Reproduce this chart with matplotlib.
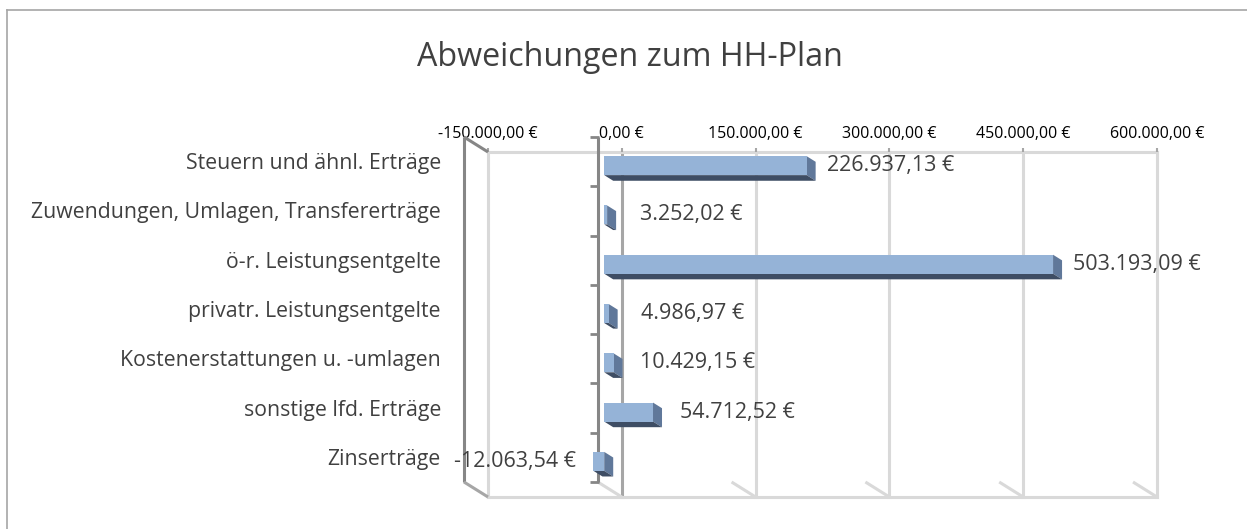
import matplotlib
matplotlib.use("Agg")
import matplotlib.pyplot as plt
from matplotlib.patches import Polygon
from matplotlib.transforms import Affine2D, IdentityTransform
from matplotlib.lines import Line2D

# data
categories = [
    "Steuern und ähnl. Erträge",
    "Zuwendungen, Umlagen, Transfererträge",
    "ö-r. Leistungsentgelte",
    "privatr. Leistungsentgelte",
    "Kostenerstattungen u. -umlagen",
    "sonstige lfd. Erträge",
    "Zinserträge",
]
values = [226937.13, 3252.02, 503193.09, 4986.97, 10429.15, 54712.52, -12063.54]
value_labels = ["226.937,13 €", "3.252,02 €", "503.193,09 €", "4.986,97 €",
                "10.429,15 €", "54.712,52 €", "-12.063,54 €"]
ticks = [-150000, 0, 150000, 300000, 450000, 600000]
tick_labels = ["-150.000,00 €", "0,00 €", "150.000,00 €", "300.000,00 €",
               "450.000,00 €", "600.000,00 €"]
title = "Abweichungen zum HH-Plan"

plt.rcParams["font.family"] = ["Open Sans", "DejaVu Sans"]

W, H = 1247, 529
fig = plt.figure(figsize=(W / 100, H / 100), dpi=100)

# the axes is the back wall of the excel 3d chart, everything in front is shifted by pixels
ax = fig.add_axes([488 / W, 1 - 497 / H, (1157 - 488) / W, (497 - 152) / H])
n = len(categories)
ax.set_xlim(ticks[0], ticks[-1])
ax.set_ylim(n - 0.5, -0.5)
ax.set_autoscale_on(False)
for s in ax.spines.values():
    s.set_visible(False)
ax.set_yticks([])
ax.patch.set_alpha(0)

DX, DY = 24, 15  # depth vector in pixels (front -> back)
f0, f1 = 0.267, 0.642  # depth of bar front / back face

def shifted(depth):
    return ax.transData + Affine2D().translate(-DX * (1 - depth), DY * (1 - depth))

def px(x, y, depth):
    X, Y = ax.transData.transform((x, y))
    return X - DX * (1 - depth), Y + DY * (1 - depth)

def seg(p, q, color, lw, z=1):
    ax.add_line(Line2D([p[0], q[0]], [p[1], q[1]], color=color, lw=lw,
                       transform=IdentityTransform(), clip_on=False, zorder=z,
                       solid_capstyle="butt"))

light = "#d9d9d9"
mid = "#a6a6a6"
dark = "#868686"
y_top, y_bot = -0.5, n - 0.5

# back wall gridlines + floor diagonals
for t in ticks:
    col = mid if t == 0 else light
    ax.plot([t, t], [y_top, y_bot], color=col, lw=2.2, clip_on=False, zorder=1)
    if t != ticks[0]:
        seg(px(t, y_bot, 0), px(t, y_bot, 1), light, 2.2)
ax.plot([ticks[0], ticks[-1]], [y_top, y_top], color=light, lw=2.2, clip_on=False, zorder=1)
ax.plot([ticks[0], ticks[-1]], [y_bot, y_bot], color=light, lw=2.2, clip_on=False, zorder=1)

# top tick labels over the back wall
ax.xaxis.tick_top()
ax.set_xticks(ticks)
ax.set_xticklabels(tick_labels)
ax.tick_params(axis="x", length=3, width=1.5, color=mid, pad=4.5, labelsize=11.5,
               labelcolor="#000000")

# left side wall edges
seg(px(ticks[0], y_top, 0), px(ticks[0], y_bot, 0), dark, 2.2, 2)
seg(px(ticks[0], y_top, 0), px(ticks[0], y_top, 1), dark, 2.2, 2)
seg(px(ticks[0], y_bot, 0), px(ticks[0], y_bot, 1), mid, 2.2, 2)

# front value axis at zero with category ticks
seg(px(0, y_top, 0), px(0, y_bot, 0), dark, 2.2, 2)
for k in range(n + 1):
    b = k - 0.5
    x0, y0 = px(0, b, 0)
    seg((x0 - 8, y0), (x0 + 1, y0), dark, 2.0, 2)

# bars: front face, right side, bottom
h = 0.385
face, side, bottom = "#95B3D7", "#60789A", "#3E4D64"
ax.barh(range(n), values, height=h, color=face, transform=shifted(f0), zorder=5)
for i, v in enumerate(values):
    lo, hi = min(v, 0), max(v, 0)
    ya, yb = i - h / 2, i + h / 2
    ax.add_patch(Polygon([px(hi, ya, f0), px(hi, yb, f0), px(hi, yb, f1), px(hi, ya, f1)],
                         closed=True, facecolor=side, edgecolor="none",
                         transform=IdentityTransform(), clip_on=False, zorder=4))
    ax.add_patch(Polygon([px(lo, yb, f0), px(hi, yb, f0), px(hi, yb, f1), px(lo, yb, f1)],
                         closed=True, facecolor=bottom, edgecolor="none",
                         transform=IdentityTransform(), clip_on=False, zorder=4))
    off = 84 if v >= 0 else -78
    ax.annotate(value_labels[i], xy=(v, i), xycoords=shifted(f0),
                xytext=(off, 0), textcoords="offset pixels", ha="center",
                va="center", fontsize=15.5, color="#404040", zorder=6)
    ax.annotate(categories[i], xy=(ticks[0], i), xycoords=shifted(0),
                xytext=(-23, -2), textcoords="offset pixels", ha="right",
                va="center", fontsize=15.3, color="#404040")

fig.text(630 / W, 1 - 58 / H, title, ha="center", va="center", fontsize=23.2,
         color="#404040")

# chart frame (only top and left edge visible in the crop)
fig.add_artist(Line2D([7 / W, 1], [1 - 10 / H, 1 - 10 / H], color=mid, lw=1.2,
                      transform=fig.transFigure))
fig.add_artist(Line2D([7 / W, 7 / W], [1 - 10 / H, 0], color=mid, lw=1.2,
                      transform=fig.transFigure))

fig.savefig("out.png", dpi=100)
